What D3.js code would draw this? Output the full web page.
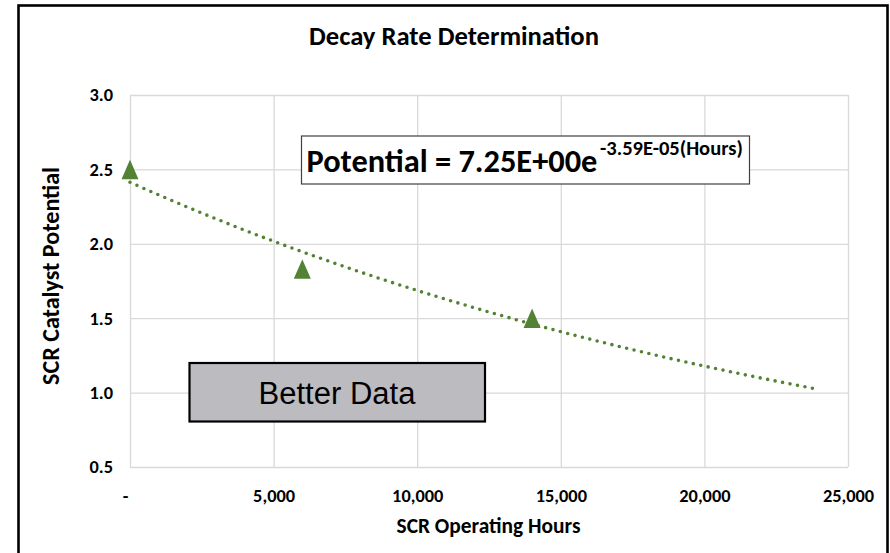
<!DOCTYPE html>
<html>
<head>
<meta charset="utf-8">
<script src="https://cdn.jsdelivr.net/npm/d3@7"></script>
<style>
  body { margin: 0; background: #fff; }
  svg { display: block; }
</style>
</head>
<body>
<div id="chart"></div>
<script>
// measured points
var hours = [0, 6000, 14000];
var potential = [2.5, 1.83, 1.5];

// axes
var xTicks = [0, 5000, 10000, 15000, 20000, 25000];
var yTicks = [0.5, 1.0, 1.5, 2.0, 2.5, 3.0];
var xDomain = [0, 25000];
var yDomain = [0.5, 3.0];

// Excel style trendline, projected forward past the last point
var trendForward = 10000;

var chartTitle = "Decay Rate Determination";
var xTitle = "SCR Operating Hours";
var yTitle = "SCR Catalyst Potential";
var eqMain = "Potential = 7.25E+00e";
var eqSup = "-3.59E-05(Hours)";
var noteText = "Better Data";

var W = 890, H = 553;
var margin = {top: 95, right: 42, bottom: 86, left: 130},
    width = W - margin.left - margin.right,
    height = H - margin.top - margin.bottom;

var font = "Carlito, Calibri, Lato, sans-serif";
var green = "#548235";
var grid = "#d9d9d9";

var data = hours.map(function(h, i) { return {hours: h, potential: potential[i]}; });

// shrink / grow a text so it takes the width it has in the picture
function fitWidth(sel, w) {
  var size = parseFloat(sel.attr("font-size"));
  var len = sel.node().getComputedTextLength();
  if (len > 0) sel.attr("font-size", size * w / len);
  return parseFloat(sel.attr("font-size"));
}

var root = d3.select("#chart")
  .append("svg")
    .attr("width", W)
    .attr("height", H);

root.append("rect")
  .attr("width", W).attr("height", H)
  .attr("fill", "#fff");

// outer frame (bottom edge runs off the picture)
root.append("rect")
  .attr("x", 18.5).attr("y", 5.5)
  .attr("width", 869).attr("height", 620)
  .attr("fill", "none")
  .attr("stroke", "#000")
  .attr("stroke-width", 2.6);

var svg = root.append("g")
  .attr("transform", "translate(" + margin.left + "," + margin.top + ")");

var x = d3.scaleLinear().domain(xDomain).range([0, width]);
var y = d3.scaleLinear().domain(yDomain).range([height, 0]);

// grid
svg.append("g")
  .attr("class", "grid")
  .call(d3.axisBottom(x).tickValues(xTicks).tickSize(height).tickFormat(""))
  .call(function(g) {
    g.select(".domain").remove();
    g.selectAll("line").attr("stroke", grid).attr("stroke-width", 1.3);
  });

svg.append("g")
  .attr("class", "grid")
  .call(d3.axisRight(y).tickValues(yTicks).tickSize(width).tickFormat(""))
  .call(function(g) {
    g.select(".domain").remove();
    g.selectAll("line").attr("stroke", grid).attr("stroke-width", 1.3);
  });

// tick labels
var fmt = d3.format(",");
var xAxis = svg.append("g")
  .attr("transform", "translate(0," + height + ")")
  .call(d3.axisBottom(x).tickValues(xTicks).tickSize(0).tickPadding(22)
    .tickFormat(function(d) { return d === 0 ? "-" : fmt(d); }))
  .call(function(g) {
    g.select(".domain").remove();
    g.selectAll("text")
      .attr("font-family", font)
      .attr("font-weight", "bold")
      .attr("font-size", 17)
      .attr("fill", "#000")
      .attr("dx", function(d) { return d === 0 ? -5 : 0; });
  });

var yAxis = svg.append("g")
  .call(d3.axisLeft(y).tickValues(yTicks).tickSize(0).tickPadding(17)
    .tickFormat(d3.format(".1f")))
  .call(function(g) {
    g.select(".domain").remove();
    g.selectAll("text")
      .attr("font-family", font)
      .attr("font-weight", "bold")
      .attr("font-size", 17)
      .attr("fill", "#000");
  });

// size all tick labels from the width of "5,000"
var tickSize = fitWidth(xAxis.selectAll("text").filter(function(d) { return d === 5000; }), 42);
xAxis.selectAll("text").attr("font-size", tickSize);
yAxis.selectAll("text").attr("font-size", tickSize);

// exponential trendline: least squares on ln(potential)
var mx = d3.mean(data, function(d) { return d.hours; });
var my = d3.mean(data, function(d) { return Math.log(d.potential); });
var sxy = d3.sum(data, function(d) { return (d.hours - mx) * (Math.log(d.potential) - my); });
var sxx = d3.sum(data, function(d) { return (d.hours - mx) * (d.hours - mx); });
var rate = sxy / sxx;
var lnA = my - rate * mx;
var trendEnd = d3.max(hours) + trendForward;
var trendX = d3.range(0, trendEnd + 1, trendEnd / 200);

svg.append("path")
  .datum(trendX)
  .attr("fill", "none")
  .attr("stroke", green)
  .attr("stroke-width", 3.6)
  .attr("stroke-linecap", "round")
  .attr("stroke-dasharray", "0 7.6")
  .attr("d", d3.line()
    .x(function(h) { return x(h); })
    .y(function(h) { return y(Math.exp(lnA + rate * h)); }));

// triangle markers, centred on their box like Excel draws them
var tw = 17, th = 19.5;
var tri = "M0," + (-th / 2) + "L" + (tw / 2) + "," + (th / 2) + "L" + (-tw / 2) + "," + (th / 2) + "Z";
svg.selectAll(".pt")
  .data(data)
  .enter().append("path")
    .attr("class", "pt")
    .attr("d", tri)
    .attr("fill", green)
    .attr("transform", function(d) { return "translate(" + x(d.hours) + "," + y(d.potential) + ")"; });

// equation box
root.append("rect")
  .attr("x", 301.5).attr("y", 136)
  .attr("width", 448).attr("height", 48)
  .attr("fill", "#fff")
  .attr("stroke", "#404040")
  .attr("stroke-width", 1.2);

var eq1 = root.append("text")
  .attr("x", 306.5).attr("y", 172.3)
  .attr("font-family", font)
  .attr("font-weight", "bold")
  .attr("font-size", 28)
  .attr("fill", "#000")
  .text(eqMain);
fitWidth(eq1, 291);

var eq2 = root.append("text")
  .attr("x", 600).attr("y", 155)
  .attr("font-family", font)
  .attr("font-weight", "bold")
  .attr("font-size", 16)
  .attr("fill", "#000")
  .text(eqSup);
fitWidth(eq2, 143);

// note box
root.append("rect")
  .attr("x", 189.5).attr("y", 363)
  .attr("width", 295.5).attr("height", 58.5)
  .attr("fill", "#bcbbc0")
  .attr("stroke", "#000")
  .attr("stroke-width", 2.2);

root.append("text")
  .attr("x", 337).attr("y", 404)
  .attr("text-anchor", "middle")
  .attr("font-family", "'Liberation Sans', Arial, sans-serif")
  .attr("font-size", 31)
  .attr("fill", "#000")
  .text(noteText);

// titles
var t = root.append("text")
  .attr("x", 454).attr("y", 45)
  .attr("text-anchor", "middle")
  .attr("font-family", font)
  .attr("font-weight", "bold")
  .attr("font-size", 23)
  .attr("fill", "#000")
  .text(chartTitle);
fitWidth(t, 290);

var xt = root.append("text")
  .attr("x", 488.5).attr("y", 533)
  .attr("text-anchor", "middle")
  .attr("font-family", font)
  .attr("font-weight", "bold")
  .attr("font-size", 19)
  .attr("fill", "#000")
  .text(xTitle);
fitWidth(xt, 184);

var yt = root.append("text")
  .attr("transform", "translate(58.5,276) rotate(-90)")
  .attr("text-anchor", "middle")
  .attr("font-family", font)
  .attr("font-weight", "bold")
  .attr("font-size", 19)
  .attr("fill", "#000")
  .text(yTitle);
fitWidth(yt, 218);
</script>
</body>
</html>
